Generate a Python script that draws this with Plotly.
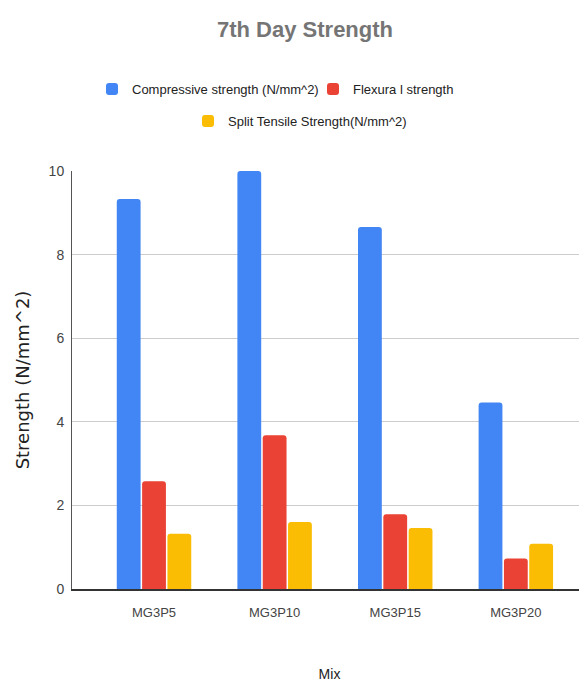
import plotly.graph_objects as go

categories = ["MG3P5", "MG3P10", "MG3P15", "MG3P20"]
compressive = [9.33, 10.0, 8.66, 4.46]
flexural = [2.58, 3.68, 1.79, 0.73]
split_tensile = [1.32, 1.60, 1.46, 1.08]
y_ticks = [0, 2, 4, 6, 8, 10]

SANS = "Liberation Sans, Arial, sans-serif"

# page has an 8px body margin, so the figure is sized/placed to compensate
W, H = 579, 676
L, T, B = 64, 163, 95
PW = W - L
PH = H - T - B

fig = go.Figure()
fig.add_trace(go.Bar(name="Compressive strength (N/mm^2)", x=categories, y=compressive,
                     marker=dict(color="#4285F4", cornerradius=3, line=dict(width=0)),
                     legend="legend"))
fig.add_trace(go.Bar(name="Flexura l strength", x=categories, y=flexural,
                     marker=dict(color="#EA4335", cornerradius=3, line=dict(width=0)),
                     legend="legend"))
fig.add_trace(go.Bar(name="Split Tensile Strength(N/mm^2)", x=categories, y=split_tensile,
                     marker=dict(color="#FBBC04", cornerradius=3, line=dict(width=0)),
                     legend="legend2"))

fig.update_layout(
    width=W, height=H,
    margin=dict(l=L, r=0, t=T, b=B, autoexpand=False),
    paper_bgcolor="white", plot_bgcolor="white",
    barmode="group", bargap=0.37, bargroupgap=0.06,
    title=dict(text="<b>7th Day Strength</b>", x=297/W, xanchor="center",
               y=1-21/H, yanchor="middle",
               font=dict(family=SANS, size=22, color="#757575")),
    legend=dict(orientation="h", x=(84-L)/PW, xanchor="left", y=(H-B-81)/PH, yanchor="middle",
                font=dict(family=SANS, size=13, color="#222222"),
                entrywidth=176, entrywidthmode="pixels",
                bgcolor="rgba(0,0,0,0)", borderwidth=0, traceorder="normal"),
    legend2=dict(orientation="h", x=(180-L)/PW, xanchor="left", y=(H-B-113)/PH, yanchor="middle",
                 font=dict(family=SANS, size=13, color="#222222"),
                 bgcolor="rgba(0,0,0,0)", borderwidth=0),
    xaxis=dict(range=[-0.68, 3.59], showgrid=False, showline=True, linecolor="#333333", linewidth=1.5,
               ticks="", ticklabelstandoff=11,
               tickfont=dict(family=SANS, size=13, color="#444444"),
               title=dict(text="Mix", standoff=50, font=dict(family=SANS, size=14, color="#222222")),
               automargin=False),
    yaxis=dict(range=[0, 10], tickvals=y_ticks, showgrid=True, gridcolor="#cccccc", gridwidth=1,
               showline=True, linecolor="#555555", linewidth=1, zeroline=False,
               ticks="", ticklabelstandoff=4,
               tickfont=dict(family=SANS, size=14, color="#444444"),
               title=dict(text="Strength (N/mm^2)", standoff=14,
                          font=dict(family="DejaVu Sans", size=18, color="#222222")),
               automargin=False),
)

fig.write_html("out.html")
